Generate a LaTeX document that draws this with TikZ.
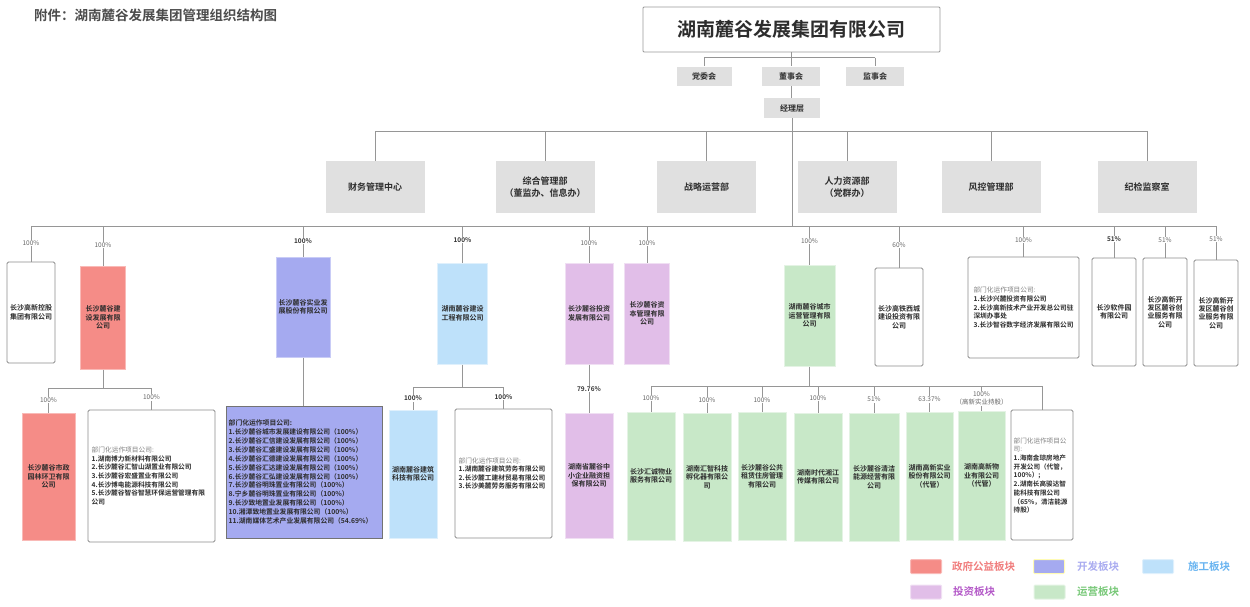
\documentclass[tikz,border=0pt]{standalone}
\usepackage{fontspec}
\setmainfont{Noto Sans CJK SC}[BoldFont={Noto Sans CJK SC Bold}]
\definecolor{cred}{RGB}{245,140,135}
\definecolor{cblue}{RGB}{165,170,240}
\definecolor{clblue}{RGB}{190,225,250}
\definecolor{cpink}{RGB}{225,190,232}
\definecolor{cgreen}{RGB}{200,232,200}
\definecolor{cgray}{RGB}{224,224,224}
\definecolor{cline}{RGB}{150,150,150}
\definecolor{ctext}{RGB}{45,45,45}
\definecolor{lgred}{RGB}{240,125,125}
\definecolor{lgblue}{RGB}{170,172,240}
\definecolor{lglblue}{RGB}{105,180,240}
\definecolor{lgpink}{RGB}{180,90,200}
\definecolor{lggreen}{RGB}{120,200,120}
\begin{document}
\begin{tikzpicture}[x=1pt,y=-1pt,
  conn/.style={draw=cline, line width=0.9pt},
  pct/.style={fill=white, inner sep=0.6pt, font=\fontsize{6.5}{7}\selectfont, text=black!60},
  pctb/.style={pct, font=\fontsize{6.5}{7}\selectfont\bfseries, text=black!80},
  cbox/.style={inner sep=0pt, align=center, font=\fontsize{7}{8.4}\selectfont\bfseries, text=ctext},
  wbox/.style={cbox, draw=black!45, rounded corners=1.5pt, line width=0.8pt, fill=white},
  redbox/.style={cbox, fill=cred, draw=cred!60!white, line width=1pt},
  bluebox/.style={cbox, fill=cblue, draw=cblue!60!white, line width=1pt},
  lbbox/.style={cbox, fill=clblue, draw=clblue!50!white, line width=1pt},
  pinkbox/.style={cbox, fill=cpink, draw=cpink!50!white, line width=1pt},
  greenbox/.style={cbox, fill=cgreen, draw=cgreen!50!white, line width=1pt},
  listtxt/.style={align=left, font=\fontsize{6.7}{8.6}\selectfont\bfseries, text=ctext, inner xsep=2.5pt},
  comm/.style={fill=cgray, inner sep=0pt, minimum width=57pt, minimum height=19.5pt, font=\fontsize{8}{9}\selectfont\bfseries, text=ctext},
  dept/.style={fill=cgray, inner sep=0pt, minimum width=99pt, minimum height=52pt, align=center, font=\fontsize{9}{12.5}\selectfont\bfseries, text=ctext},
  swatch/.style={minimum width=31pt, minimum height=14pt, inner sep=0pt, rounded corners=1pt, line width=1pt},
  lgtxt/.style={anchor=west, inner sep=0pt, font=\fontsize{10.5}{12}\selectfont\bfseries}
]
\useasboundingbox (0,0) rectangle (1250,606);
\newcommand{\gl}[1]{{\mdseries\color{black!50}#1}}

% title
\node[anchor=west, inner sep=0pt, font=\fontsize{13.5}{15}\selectfont\bfseries, text=black!70] (title) at (34,15.7) {附件：湖南麓谷发展集团管理组织结构图};

% top
\node[draw=black!40, fill=white, line width=0.8pt, rounded corners=1pt, minimum width=297pt, minimum height=45pt, inner sep=0pt, font=\fontsize{19}{22}\selectfont\bfseries, text=ctext] (co) at (791.5,29.5) {湖南麓谷发展集团有限公司};
\node[comm, minimum width=55pt] (dw) at (704,76.3) {党委会};
\node[comm, minimum width=58pt] (ds) at (791,76.3) {董事会};
\node[comm, minimum width=58pt] (js) at (875,76.3) {监事会};
\node[comm, minimum width=56pt, minimum height=20pt] (mgr) at (792,108) {经理层};
\coordinate (cL) at (704,57.5);
\coordinate (cR) at (875,57.5);
\draw[conn] (co.south -| ds) -- (ds.north);
\draw[conn] (cL) -- (cR);
\draw[conn] (cL) -- (dw.north);
\draw[conn] (cR) -- (js.north);
\draw[conn] (ds.south) -- (mgr.north -| ds.south);

% departments
\node[dept] (d1) at (375,187) {财务管理中心};
\node[dept] (d2) at (545,187) {综合管理部\\（董监办、信息办）};
\node[dept] (d3) at (706.5,187) {战略运营部};
\node[dept] (d4) at (847,187) {人力资源部\\（党群办）};
\node[dept] (d5) at (991,187) {风控管理部};
\node[dept] (d6) at (1147,187) {纪检监察室};
\coordinate (dL) at (375,131);
\coordinate (dR) at (1147,131);
\draw[conn] (dL) -- (dR);
\foreach \d in {d1,d2,d3,d4,d5,d6} \draw[conn] (\d.north |- dL) -- (\d.north);

% main trunk and bus
\coordinate (trunk) at (792,226);
\coordinate (bL) at (31,226);
\coordinate (bR) at (1217,226);
\draw[conn] (mgr.south) -- (trunk);
\draw[conn] (bL) -- (bR);

% level 1
\node[wbox, minimum width=48pt, minimum height=101pt] (a1) at (31,312.5) {长沙高新控股\\集团有限公司};
\node[redbox, minimum width=45pt, minimum height=103pt] (a2) at (103,317.5) {长沙麓谷建\\设发展有限\\公司};
\node[bluebox, minimum width=54pt, minimum height=100pt] (a3) at (303,307) {长沙麓谷实业发\\展股份有限公司};
\node[lbbox, minimum width=50pt, minimum height=101pt] (a4) at (462.5,313.5) {湖南麓谷建设\\工程有限公司};
\node[pinkbox, minimum width=48pt, minimum height=101pt] (a5) at (589,313.5) {长沙麓谷投资\\发展有限公司};
\node[pinkbox, minimum width=45pt, minimum height=101pt] (a6) at (647,313.5) {长沙麓谷资\\本管理有限\\公司};
\node[greenbox, minimum width=51pt, minimum height=101pt] (a7) at (809.5,315.5) {湖南麓谷城市\\运营管理有限\\公司};
\node[wbox, minimum width=48pt, minimum height=98pt] (a8) at (899,317) {长沙高铁西城\\建设投资有限\\公司};
\node[wbox, minimum width=111pt, minimum height=101pt] (a9) at (1023.5,307.5) {};
\node[listtxt] (a9t) at (a9.center) {\gl{部门化运作项目公司:}\\1.长沙兴麓投资有限公司\\2.长沙高新技术产业开发总公司驻\\深圳办事处\\3.长沙智谷数字经济发展有限公司};
\node[wbox, minimum width=44pt, minimum height=108pt] (a10) at (1114,312) {长沙软件园\\有限公司};
\node[wbox, minimum width=44pt, minimum height=108pt] (a11) at (1165,312) {长沙高新开\\发区麓谷创\\业服务有限\\公司};
\node[wbox, minimum width=44pt, minimum height=106pt] (a12) at (1216,313) {长沙高新开\\发区麓谷创\\业服务有限\\公司};
\foreach \a in {a1,a2,a3,a4,a5,a6,a7,a8,a9,a10,a11,a12} \draw[conn] (\a.north |- bL) -- (\a.north);
\node[pct] (p1) at (31,243) {100\%};
\node[pct] (p2) at (103,245) {100\%};
\node[pctb] (p3) at (303,241) {100\%};
\node[pctb] (p4) at (462.5,240) {100\%};
\node[pct] (p5) at (589,243) {100\%};
\node[pct] (p6) at (647,243) {100\%};
\node[pct] (p7) at (809.5,241) {100\%};
\node[pct] (p8) at (899,245) {60\%};
\node[pct] (p9) at (1023.5,240) {100\%};
\node[pctb] (p10) at (1114,239) {51\%};
\node[pct] (p11) at (1165,240) {51\%};
\node[pct] (p12) at (1216,239) {51\%};

% level 2: red branch
\node[redbox, minimum width=53pt, minimum height=127pt] (b1) at (48.5,476.5) {长沙麓谷市政\\园林环卫有限\\公司};
\node[wbox, minimum width=127pt, minimum height=132pt] (b2) at (151.5,476) {};
\node[listtxt, anchor=west] (b2t) at (89,476) {\gl{部门化运作项目公司:}\\1.湖南博力新材料有限公司\\2.长沙麓谷汇智山湖置业有限公司\\3.长沙麓谷宏盛置业有限公司\\4.长沙博电能源科技有限公司\\5.长沙麓谷智谷智慧环保运营管理有限\\公司};
\coordinate (rL) at (48.5,388);
\coordinate (rR) at (151.5,388);
\draw[conn] (a2.south) -- (a2.south |- rL);
\draw[conn] (rL) -- (rR);
\draw[conn] (rL) -- (b1.north);
\draw[conn] (rR) -- (b2.north);
\node[pct] (q1) at (48.5,400) {100\%};
\node[pct] (q2) at (151.5,397.5) {100\%};

% level 2: blue branch
\node[bluebox, draw=black!55, line width=0.8pt, minimum width=156pt, minimum height=132pt] (b3) at (304,472) {};
\node[listtxt, anchor=west, font=\fontsize{6.8}{8.9}\selectfont\bfseries] (b3t) at (226,472) {部门化运作项目公司:\\1.长沙麓谷城市发展建设有限公司（100\%）\\2.长沙麓谷汇信建设发展有限公司（100\%）\\3.长沙麓谷汇盛建设发展有限公司（100\%）\\4.长沙麓谷汇德建设发展有限公司（100\%）\\5.长沙麓谷汇达建设发展有限公司（100\%）\\6.长沙麓谷汇弘建设发展有限公司（100\%）\\7.长沙麓谷明珠置业有限公司（100\%）\\8.宁乡麓谷明珠置业有限公司（100\%）\\9.长沙致地置业发展有限公司（100\%）\\10.湘潭致地置业发展有限公司（100\%）\\11.湖南媒体艺术产业发展有限公司（54.69\%）};
\draw[conn] (a3.south) -- (a3.south |- b3.north);

% level 2: light blue branch
\node[lbbox, minimum width=48pt, minimum height=128pt] (b4) at (413,474) {湖南麓谷建筑\\科技有限公司};
\node[wbox, minimum width=97pt, minimum height=129pt] (b5) at (503.5,473.5) {};
\node[listtxt, anchor=west] (b5t) at (456,473.5) {\gl{部门化运作项目公司:}\\1.湖南麓谷建筑劳务有限公司\\2.长沙麓工建材贸易有限公司\\3.长沙美麓劳务服务有限公司};
\coordinate (lL) at (413,387);
\coordinate (lR) at (503.5,387);
\draw[conn] (a4.south) -- (a4.south |- lL);
\draw[conn] (lL) -- (lR);
\draw[conn] (lL) -- (b4.north);
\draw[conn] (lR) -- (b5.north);
\node[pctb] (q3) at (413,398.5) {100\%};
\node[pctb] (q4) at (503.5,397) {100\%};

% level 2: pink branch
\node[pinkbox, minimum width=48pt, minimum height=125pt] (b6) at (589,475.5) {湖南省麓谷中\\小企业融资担\\保有限公司};
\draw[conn] (a5.south) -- (b6.north);
\node[pctb] (q5) at (589,389) {79.76\%};

% level 2: green branch
\node[greenbox, minimum width=48pt, minimum height=128pt] (g1) at (651,476) {长沙汇诚物业\\服务有限公司};
\node[greenbox, minimum width=48pt, minimum height=128pt] (g2) at (707,477) {湖南汇智科技\\孵化器有限公\\司};
\node[greenbox, minimum width=48pt, minimum height=128pt] (g3) at (762,476) {长沙麓谷公共\\租赁住房管理\\有限公司};
\node[greenbox, minimum width=48pt, minimum height=128pt] (g4) at (818,477) {湖南时代湘江\\传媒有限公司};
\node[greenbox, minimum width=50pt, minimum height=128pt] (g5) at (874,477) {长沙麓谷清洁\\能源经营有限\\公司};
\node[greenbox, minimum width=47pt, minimum height=128pt] (g6) at (929.5,476) {湖南高新实业\\股份有限公司\\（代管）};
\node[greenbox, minimum width=47pt, minimum height=129pt] (g7) at (981.5,475.5) {湖南高新物\\业有限公司\\（代管）};
\node[wbox, minimum width=62pt, minimum height=130pt] (w8) at (1042,475) {};
\node[listtxt, anchor=west, inner xsep=0pt, font=\fontsize{6.6}{8.7}\selectfont\bfseries] (w8t) at (1013.5,475.5) {\gl{部门化运作项目公}\\\gl{司:}\\1.海南金琼房地产\\开发公司（代管，\\100\%）;\\2.湖南长高骏达智\\能科技有限公司\\（65\%，清洁能源\\持股）};
\coordinate (gL) at (651,386);
\coordinate (gR) at (1042,386);
\draw[conn] (a7.south) -- (a7.south |- gL);
\draw[conn] (gL) -- (gR);
\foreach \g in {g1,g2,g3,g4,g5,g6,g7} \draw[conn] (\g.north |- gL) -- (\g.north);
\draw[conn] (gR) -- (w8.north);
\node[pct] (r1) at (651,398) {100\%};
\node[pct] (r2) at (707,400) {100\%};
\node[pct] (r3) at (762,400) {100\%};
\node[pct] (r4) at (818,398) {100\%};
\node[pct] (r5) at (874,399.5) {51\%};
\node[pct] (r6) at (929.5,399.5) {63.37\%};
\node[pct, align=center, font=\fontsize{6.5}{8.5}\selectfont] (r7) at (981.5,398.5) {100\%\\（高新实业持股）};

% legend
\node[swatch, fill=cred, draw=cred!60!white] (s1) at (926,566.5) {};
\node[lgtxt, text=lgred] (t1) at (952,566.5) {政府公益板块};
\node[swatch, fill=cblue, draw=yellow!30!white] (s2) at (1049,566.5) {};
\node[lgtxt, text=lgblue] (t2) at (1077,566.5) {开发板块};
\node[swatch, fill=clblue, draw=clblue!50!white] (s3) at (1158,566.5) {};
\node[lgtxt, text=lglblue] (t3) at (1188,566.5) {施工板块};
\node[swatch, fill=cpink, draw=cpink!50!white] (s4) at (926,592) {};
\node[lgtxt, text=lgpink] (t4) at (953,592) {投资板块};
\node[swatch, fill=cgreen, draw=cgreen!50!white] (s5) at (1049.5,592) {};
\node[lgtxt, text=lggreen] (t5) at (1077,592) {运营板块};
\end{tikzpicture}
\end{document}
